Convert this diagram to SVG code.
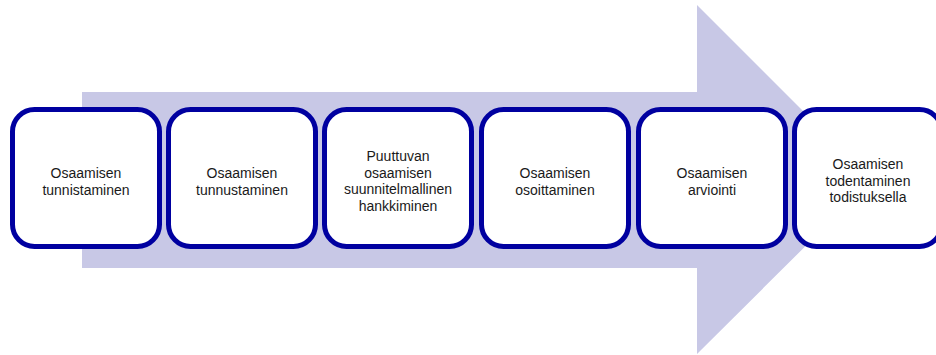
<svg xmlns="http://www.w3.org/2000/svg" width="936" height="355" viewBox="0 0 936 355">
<style>
.box{fill:#fff;stroke:#0000a0;stroke-width:5}
.t{font-family:"Liberation Sans",Arial,sans-serif;font-size:14px;fill:#1a1a1a;text-anchor:middle}
</style>
<rect width="936" height="355" fill="#fff"/>
<g id="arrow"><polygon points="82,92 697,92 697,5 872,180 697,354 697,268 82,268" fill="#c8c8e6"/></g>
<g id="connectors"></g>
<g id="n1"><rect class="box" x="12.5" y="109.5" width="147" height="137" rx="22"/><text class="t" x="86" y="178">Osaamisen</text><text class="t" x="86" y="194.5">tunnistaminen</text></g>
<g id="n2"><rect class="box" x="168.5" y="109.5" width="147" height="137" rx="22"/><text class="t" x="242" y="178">Osaamisen</text><text class="t" x="242" y="194.5">tunnustaminen</text></g>
<g id="n3"><rect class="box" x="324.5" y="109.5" width="147" height="137" rx="22"/><text class="t" x="398" y="161">Puuttuvan</text><text class="t" x="398" y="177.5">osaamisen</text><text class="t" x="398" y="194">suunnitelmallinen</text><text class="t" x="398" y="210.5">hankkiminen</text></g>
<g id="n4"><rect class="box" x="481.5" y="109.5" width="147" height="137" rx="22"/><text class="t" x="555" y="178">Osaamisen</text><text class="t" x="555" y="194.5">osoittaminen</text></g>
<g id="n5"><rect class="box" x="638.5" y="109.5" width="147" height="137" rx="22"/><text class="t" x="712" y="178">Osaamisen</text><text class="t" x="712" y="194.5">arviointi</text></g>
<g id="n6"><rect class="box" x="794.5" y="109.5" width="147" height="137" rx="22"/><text class="t" x="868" y="169">Osaamisen</text><text class="t" x="868" y="185.5">todentaminen</text><text class="t" x="868" y="202">todistuksella</text></g>
</svg>
